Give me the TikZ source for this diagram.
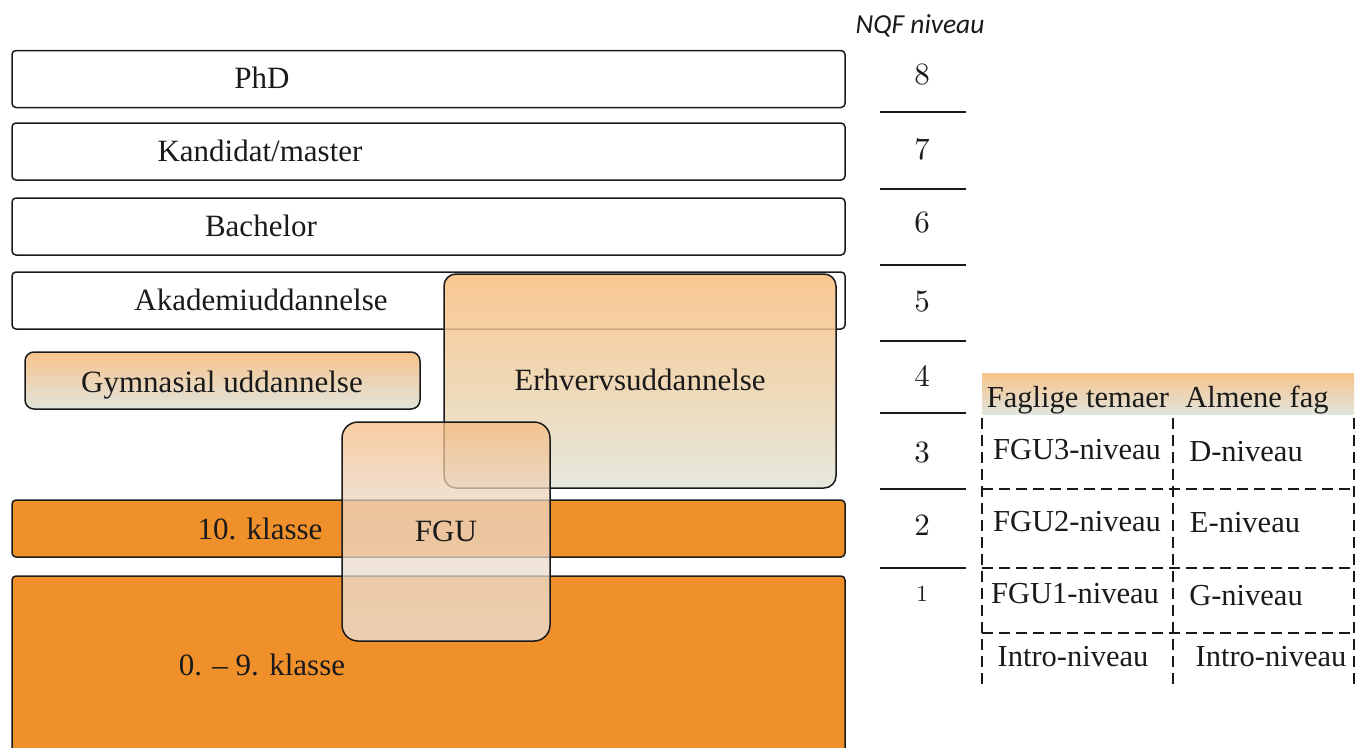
\documentclass[tikz,border=0pt]{standalone}
\usepackage{fontspec}
\setmainfont{Liberation Serif}
\newfontfamily\nqffont{Carlito}
\newfontfamily\lmfont{lmroman10-regular.otf}
\definecolor{kor}{HTML}{F0902B}
\definecolor{gtop}{HTML}{F8C48C}
\definecolor{gbot}{HTML}{E0E4DC}
\definecolor{etop}{HTML}{F7A348}
\definecolor{ebot}{HTML}{D5DAC5}
\definecolor{fguor}{HTML}{F19B41}
\definecolor{fgumid}{HTML}{E3BE9C}
\definecolor{fgugray}{HTML}{E1D7CD}
\definecolor{ink}{HTML}{1A1A1A}
\pgfdeclareverticalshading{fgushade}{100bp}{color(0bp)=(fgugray); color(25bp)=(fgugray); color(59bp)=(fgumid); color(75bp)=(fguor); color(100bp)=(fguor)}
\begin{document}
\begin{tikzpicture}[x=1pt,y=-1pt,
  wbox/.style={draw=ink, line width=1.5pt, rounded corners=4pt, fill=white, minimum width=833pt, minimum height=57pt, inner sep=0pt},
  obox/.style={wbox, fill=kor},
  lbl/.style={font=\fontsize{31}{36}\selectfont, inner sep=0pt, text height=20pt, text depth=0pt, text=ink},
  tlbl/.style={font=\fontsize{30.5}{36}\selectfont, inner sep=0pt, text height=20pt, text depth=0pt, text=ink},
  numlbl/.style={font=\lmfont\fontsize{31}{36}\selectfont, inner sep=0pt, text height=20pt, text depth=0pt, text=ink},
  nqfline/.style={draw=ink, line width=1.8pt},
  gridline/.style={draw=ink, line width=1.4pt, dash pattern=on 11pt off 6pt}]
\useasboundingbox (0,0) rectangle (1357,747);
% left column boxes
\node[wbox] (phd) at (428.5,79) {};
\node[wbox] (kand) at (428.5,151.5) {};
\node[wbox] (bach) at (428.5,226.5) {};
\node[wbox] (akad) at (428.5,300.5) {};
\node[wbox, rounded corners=9pt, minimum width=395pt, top color=gtop, bottom color=gbot] (gym) at (222.5,380.5) {};
\node[obox] (k10) at (428.5,528.5) {};
\node[obox, minimum height=184pt] (k09) at (428.5,668) {};
% transparent boxes
\node[wbox, rounded corners=12pt, minimum width=392pt, minimum height=214pt, top color=etop, bottom color=ebot, fill opacity=0.6] (erh) at (640,381) {};
\node[wbox, rounded corners=16pt, minimum width=208pt, minimum height=219pt, shading=fgushade, fill opacity=0.5] (fgu) at (446,531.5) {};
% labels
\node[lbl] (tphd) at (262,78) {PhD};
\node[lbl] (tkand) at (260,151) {Kandidat/master};
\node[lbl] (tbach) at (261,226) {Bachelor};
\node[lbl] (takad) at (261,300) {Akademiuddannelse};
\node[lbl] (tgym) at (222,382) {Gymnasial uddannelse};
\node[lbl] (terh) at (640,380) {Erhvervsuddannelse};
\node[lbl] (tfgu) at (446,531) {FGU};
\node[lbl] (tk10) at (260,529) {10. klasse};
\node[lbl] (tk09) at (262,665) {0. – 9. klasse};
% NQF column
\node[font=\nqffont\itshape\fontsize{27.5}{32}\selectfont, inner sep=0pt, text=ink] (nqf) at (920,26) {NQF niveau};
\node[numlbl] (n8) at (922,74) {8};
\node[numlbl] (n7) at (922,149) {7};
\node[numlbl] (n6) at (922,222) {6};
\node[numlbl] (n5) at (922,301) {5};
\node[numlbl] (n4) at (922,376) {4};
\node[numlbl] (n3) at (922,452) {3};
\node[numlbl] (n2) at (922,525) {2};
\node[numlbl, font=\lmfont\fontsize{23}{28}\selectfont, text height=15pt] (n1) at (922,594) {1};
\foreach \yy in {112,189,265,341,413,489,568} \draw[nqfline] (880,\yy) -- (966,\yy);
% table
\node[inner sep=0pt, minimum width=372pt, minimum height=41pt, top color=gtop, bottom color=gbot] (hdr) at (1168,393.5) {};
\node[tlbl] (h1) at (1078,397) {Faglige temaer};
\node[tlbl] (h2) at (1257,397) {Almene fag};
\foreach \xx in {982,1173,1354} \draw[gridline] (\xx,418) -- (\xx,687);
\foreach \yy in {489,568,633} \draw[gridline] (982,\yy) -- (1354,\yy);
\node[tlbl] (c31) at (1077,449) {FGU3-niveau};
\node[tlbl] (c32) at (1246,451) {D-niveau};
\node[tlbl] (c21) at (1077,521) {FGU2-niveau};
\node[tlbl] (c22) at (1245,522) {E-niveau};
\node[tlbl] (c11) at (1075,593) {FGU1-niveau};
\node[tlbl] (c12) at (1246,595) {G-niveau};
\node[tlbl] (c01) at (1073,656) {Intro-niveau};
\node[tlbl] (c02) at (1271,656) {Intro-niveau};
\end{tikzpicture}
\end{document}
